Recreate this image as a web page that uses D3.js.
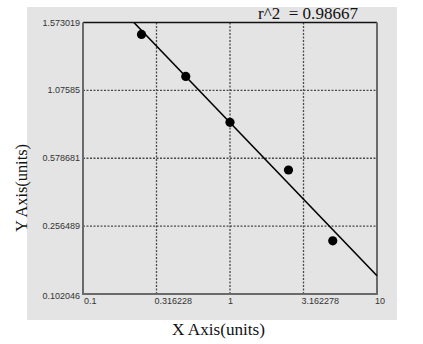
<!DOCTYPE html>
<html>
<head>
<meta charset="utf-8">
<script src="https://cdn.jsdelivr.net/npm/d3@7"></script>
<style>
  body { margin: 0; background: #fff; }
  .tick-label { font-family: "Liberation Sans", Arial, sans-serif; font-size: 9px; fill: #333; }
  .title, .axis-title { font-family: "Liberation Serif", "Times New Roman", serif; fill: #111; }
</style>
</head>
<body>
<div class="chart"></div>
<script>
// data
const xTicks = [0.1, 0.316228, 1, 3.162278, 10];
const xTickLabels = ["0.1", "0.316228", "1", "3.162278", "10"];
const yTicks = [0.102046, 0.256489, 0.578681, 1.07585, 1.573019];
const yTickLabels = ["0.102046", "0.256489", "0.578681", "1.07585", "1.573019"];

const pointX = [0.25, 0.5, 1, 2.5, 5];
const pointY = [1.486, 1.178, 0.842, 0.523, 0.223];

// fitted line ends
const fitX = [0.222, 10];
const fitY = [1.573019, 0.1437];

const rSquared = "r^2  = 0.98667";

const width = 423, height = 344;
const plotLeft = 83, plotRight = 377, plotTop = 22.5, plotBottom = 294;

const svg = d3.select(".chart")
  .append("svg")
  .attr("width", width)
  .attr("height", height);

// grey panel
svg.append("rect")
  .attr("x", 27).attr("y", 7)
  .attr("width", 370).attr("height", 313)
  .attr("fill", "#e4e4e4");

let x = d3.scaleLog()
  .domain([0.1, 10])
  .range([plotLeft, plotRight]);

// y ticks are spaced evenly, so a piecewise scale
let step = (plotBottom - plotTop) / (yTicks.length - 1);
let y = d3.scaleLinear()
  .domain(yTicks)
  .range(yTicks.map((d, i) => plotBottom - i * step));

// grid
let grid = svg.append("g")
  .attr("stroke", "#4a4a4a")
  .attr("stroke-width", 1.3)
  .attr("stroke-dasharray", "2,1.5");

grid.selectAll(".vgrid")
  .data(xTicks.slice(1, -1))
  .join("line")
  .attr("x1", d => x(d)).attr("x2", d => x(d))
  .attr("y1", plotTop).attr("y2", plotBottom);

grid.selectAll(".hgrid")
  .data(yTicks.slice(1, -1))
  .join("line")
  .attr("x1", plotLeft).attr("x2", plotRight)
  .attr("y1", d => y(d)).attr("y2", d => y(d));

// frame
svg.append("line")
  .attr("x1", plotLeft).attr("x2", plotRight)
  .attr("y1", plotTop).attr("y2", plotTop)
  .attr("stroke", "#111").attr("stroke-width", 1.5);
svg.append("path")
  .attr("d", `M${plotLeft},${plotTop}V${plotBottom}H${plotRight}V${plotTop}`)
  .attr("fill", "none")
  .attr("stroke", "#6a6a6a")
  .attr("stroke-width", 2);

// tick labels
svg.append("g")
  .selectAll("text")
  .data(yTicks)
  .join("text")
  .attr("class", "tick-label")
  .attr("x", plotLeft - 3)
  .attr("y", (d, i) => y(d) + (i == 0 ? 5 : 3))
  .attr("text-anchor", "end")
  .text((d, i) => yTickLabels[i]);

svg.append("g")
  .selectAll("text")
  .data(xTicks)
  .join("text")
  .attr("class", "tick-label")
  .attr("x", (d, i) => x(d) + (i == 0 ? 1 : -2))
  .attr("y", plotBottom + 10)
  .attr("text-anchor", "start")
  .text((d, i) => xTickLabels[i]);

// fitted line
let line = d3.line()
  .x(d => x(d[0]))
  .y(d => y(d[1]));

svg.append("path")
  .datum(fitX.map((d, i) => [d, fitY[i]]))
  .attr("fill", "none")
  .attr("stroke", "#000")
  .attr("stroke-width", 1.6)
  .attr("d", line);

// points
svg.append("g")
  .selectAll("circle")
  .data(pointX)
  .join("circle")
  .attr("cx", d => x(d))
  .attr("cy", (d, i) => y(pointY[i]))
  .attr("r", 4.6)
  .attr("fill", "#000");

// titles
svg.append("text")
  .attr("class", "title")
  .attr("x", 258)
  .attr("y", 19)
  .attr("font-size", 17)
  .attr("textLength", 100)
  .attr("lengthAdjust", "spacingAndGlyphs")
  .style("white-space", "pre")
  .text(rSquared);

svg.append("text")
  .attr("class", "axis-title")
  .attr("x", 172)
  .attr("y", 335)
  .attr("font-size", 17)
  .attr("textLength", 93)
  .attr("lengthAdjust", "spacingAndGlyphs")
  .text("X Axis(units)");

svg.append("text")
  .attr("class", "axis-title")
  .attr("transform", "translate(27,232) rotate(-90)")
  .attr("font-size", 17)
  .attr("textLength", 88)
  .attr("lengthAdjust", "spacingAndGlyphs")
  .text("Y Axis(units)");
</script>
</body>
</html>
